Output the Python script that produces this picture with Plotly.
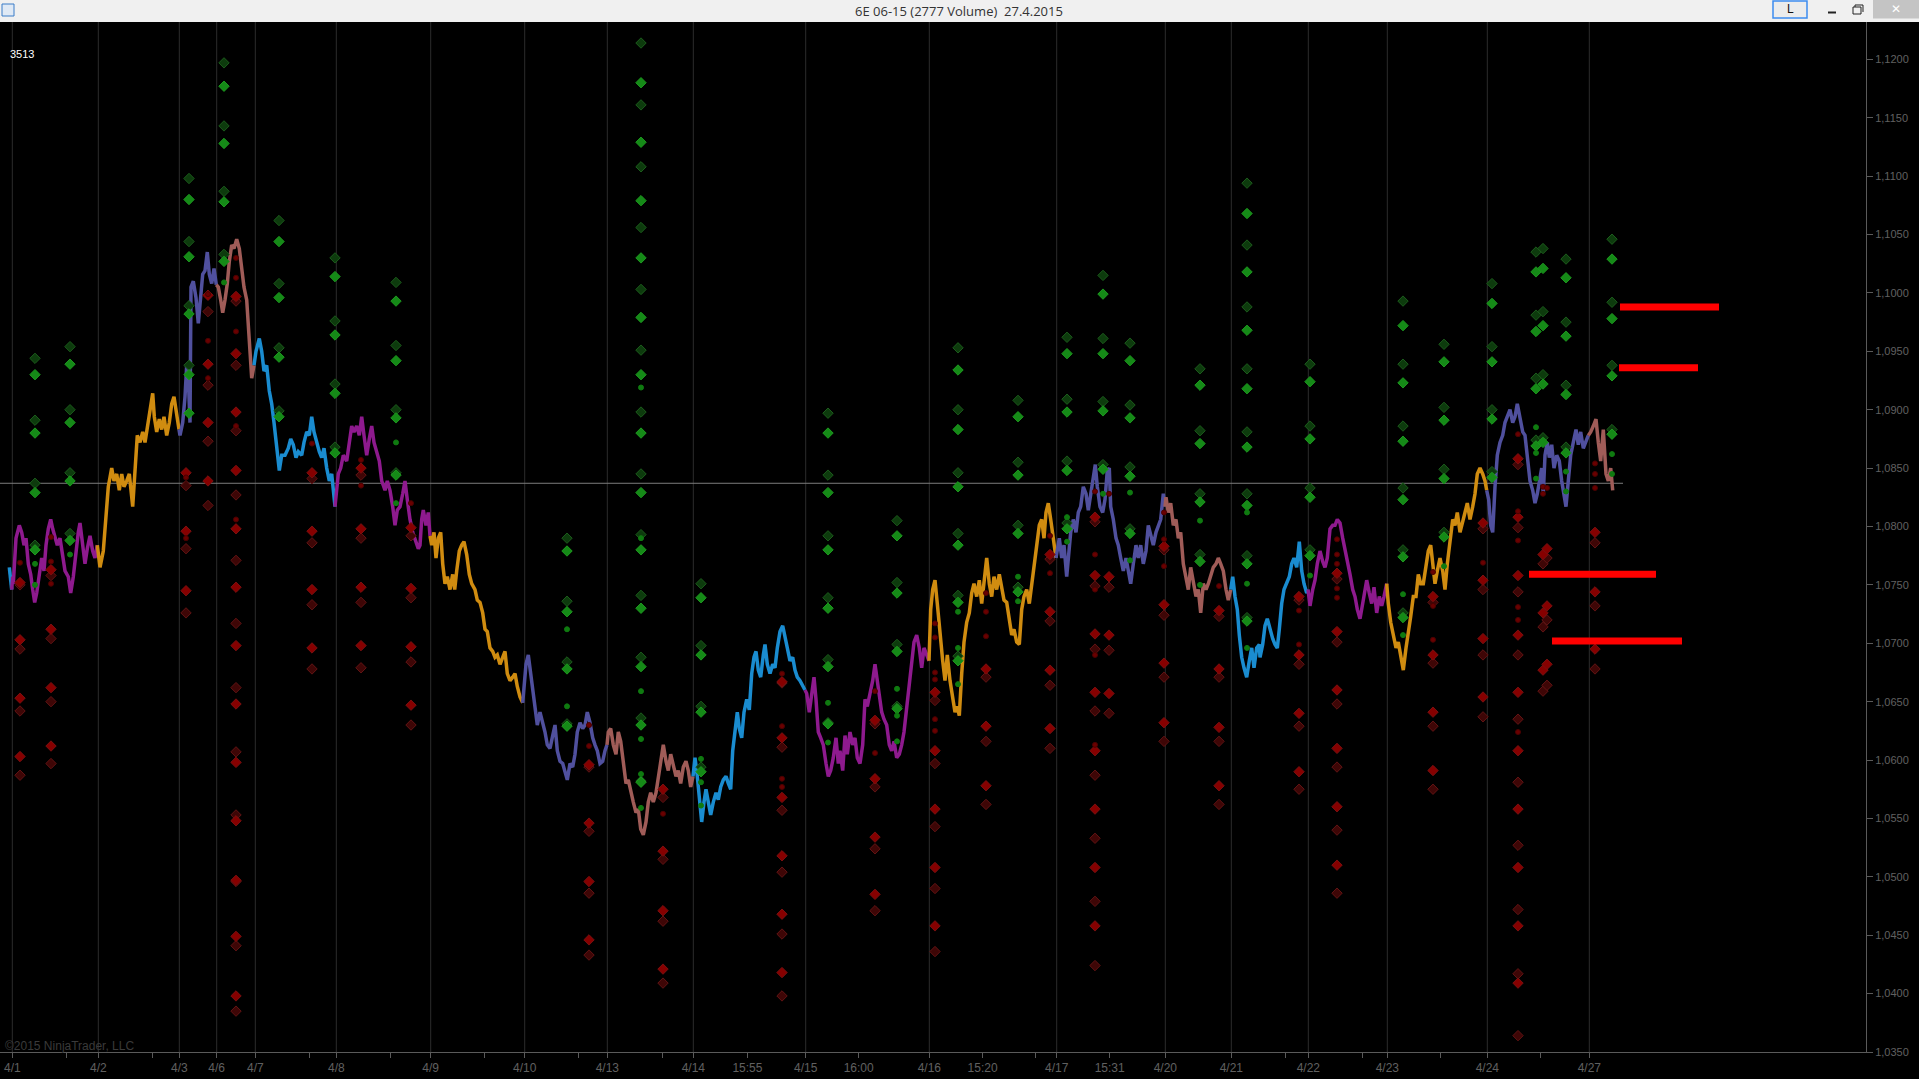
"""
6E 06-15 volume chart (NinjaTrader style) rebuilt with plotly
"""

import plotly.graph_objects as go

# ---- texts
WINDOW_TITLE = "6E 06-15 (2777 Volume)  27.4.2015"
BAR_COUNTER = "3513"
COPYRIGHT = "\u00a92015 NinjaTrader, LLC"

# ---- x axis (bar positions of session starts and intraday labels)
DAY_X = [12.3, 98.3, 179.3, 216.7, 255.3, 336.3, 430.7, 524.7, 607.3, 693.3,
         805.7, 929.3, 1056.7, 1165.3, 1231.3, 1308.3, 1387.3, 1487.3, 1589.3]
DAY_LABELS = ["4/1", "4/2", "4/3", "4/6", "4/7", "4/8", "4/9", "4/10", "4/13", "4/14",
              "4/15", "4/16", "4/17", "4/20", "4/21", "4/22", "4/23", "4/24", "4/27"]
TIME_X = [747.4, 858.7, 982.6, 1109.7]
TIME_LABELS = ["15:55", "16:00", "15:20", "15:31"]
MINOR_X = [66.3, 152, 309.7, 390.3, 484.7, 578, 662, 1035.7, 1285.7, 1362.2, 1440.8, 1540.8]

# ---- price line (bar, close), one row per session
BAR_X = [
    9.3, 11.7,
    12.7, 13.3, 16, 19.3, 21.7, 24, 26, 28.3, 30.7, 32.7, 34.7, 36.7, 39.3, 41.7, 44, 46, 48.3, 50.7,
    52.7, 55, 57.3, 60, 62.7, 65, 68.3, 70.7, 73.3, 76, 78.3, 80, 82.7, 85, 87.3, 90, 92.7, 95, 97.3,
    99.3, 100, 103.3, 106, 108.3, 111.7, 114, 116.7, 119.3, 121.7, 124, 126.7, 129.3, 132.7, 135, 137.3,
    140, 142.7, 145, 147.3, 150, 152.7, 154.3, 156.7, 159.3, 161.7, 164, 166.7, 169.3, 171.7, 174, 176.7, 179,
    180, 182.7, 185, 186.7, 188.3, 190, 191, 193.3, 196, 198.3, 200, 202.7, 205, 207.3, 209.3, 211.7, 214, 216.3,
    218.3, 220.7, 222.7, 225, 227.3, 229.3, 231.7, 234, 236.7, 239.3, 241.7, 244, 246.7, 248.3, 250, 251.7, 254,
    256, 259.3, 261.7, 264, 266.7, 269.3, 271.7, 274, 276.7, 279.3, 281.7, 285, 288.3, 290.7, 293.3, 296,
    298.3, 301.7, 304, 306.7, 309.3, 311.7, 314, 316.7, 319.3, 321.7, 324, 326.7, 329.3, 331.7, 335,
    337, 338.3, 340.7, 343.3, 346.7, 349.3, 351.7, 354, 356.7, 359.3, 361.7, 364, 366.7, 369.3, 371.7, 374,
    376.7, 379.3, 381.7, 385, 387.3, 390, 392.7, 395, 397.3, 400, 402.7, 405, 407.3, 410, 412.7, 415, 418.3,
    420, 421.7, 423.3, 426, 428.3, 430,
    431.7, 434, 436, 438.3, 440.7, 442.7, 445, 447.3, 450, 452.7, 454.7, 456.7, 459.3, 461.7, 464, 466.7,
    469.3, 471.7, 475, 477.3, 480, 482.7, 485, 487.3, 490, 492.7, 495, 497.3, 500, 502.7, 505, 507.3, 510,
    512.7, 515, 517.3, 520, 522.7,
    525, 526, 528.3, 530, 532.7, 535, 537.3, 540, 542.7, 545, 547.3, 550, 552.7, 555, 557.3, 560, 562.7,
    565, 567.3, 570, 572.7, 575, 577.3, 580, 582.7, 585, 587.3, 590, 592.7, 595, 597.3, 600, 602.7, 605, 607,
    608.3, 610.7, 613.3, 616, 618.3, 620.7, 623.3, 626, 628.3, 630.7, 633.3, 636, 638.3, 640.7, 643.3, 646,
    648.3, 650.7, 653.3, 656, 658.3, 660.7, 663.3, 666, 668.3, 670.7, 673.3, 676, 678.3, 680.7, 683.3, 686,
    688.3, 690.7, 693,
    695, 697.3, 699.3, 701.7, 704, 706, 708.3, 710.7, 713.3, 716, 718.3, 720.7, 723.3, 726, 728.3, 730.7,
    732.7, 735, 737.3, 739.3, 741.7, 744, 746.7, 749.3, 751.7, 754, 756, 758.3, 760.7, 763.3, 765, 767.3,
    770, 772.7, 775, 777.3, 780, 782.7, 785, 787.3, 790, 792.7, 795, 797.3, 800, 802.7, 805,
    806.7, 809.3, 811.7, 814, 816, 818.3, 820.7, 823.3, 826, 828.3, 830.7, 833.3, 836, 838.3, 840, 842.7,
    845, 847.3, 850, 852.7, 855, 857.3, 860, 862.7, 865, 867.3, 870, 872.7, 875, 877.3, 879.3, 881.7, 884,
    886.7, 889.3, 891.7, 894, 896.7, 899.3, 901.7, 904, 906.7, 909.3, 911.7, 914, 916.7, 919.3, 921.7, 924,
    926.7, 929,
    930.7, 932.7, 935, 937.3, 940, 942.7, 945, 947.3, 950, 952.7, 955, 957.3, 959.3, 961.7, 964, 966.7,
    969.3, 971.7, 974, 976.7, 979.3, 981.7, 984, 986.7, 989.3, 991.7, 994, 996.7, 999.3, 1001.7, 1004,
    1006.7, 1009.3, 1011.7, 1014, 1016.7, 1019.3, 1021.7, 1024, 1026.7, 1029.3, 1031.7, 1034, 1036.7,
    1039.3, 1041.7, 1044, 1046, 1048.3, 1050.7, 1053.3, 1056,
    1057.3, 1059.3, 1061.7, 1064, 1066.7, 1068.7, 1070.7, 1073.3, 1076, 1078.3, 1080.7, 1083.3, 1086,
    1088.3, 1090.7, 1093.3, 1095.3, 1097.3, 1100, 1102.7, 1105, 1107.3, 1109.3, 1110.7, 1113.3, 1116,
    1118.3, 1120.7, 1123.3, 1126, 1128.3, 1130.7, 1133.3, 1136, 1138.3, 1140.7, 1143.3, 1146, 1148.3,
    1150.7, 1153.3, 1156, 1158.3, 1160.7, 1163.3, 1165,
    1166, 1168.3, 1170.7, 1173.3, 1176, 1178.3, 1180.7, 1183.3, 1186, 1188.3, 1190.7, 1193.3, 1196, 1198.3,
    1200.7, 1203.3, 1206, 1208.3, 1210.7, 1213.3, 1216, 1218.3, 1220.7, 1223.3, 1226, 1228.3, 1230.7,
    1232.7, 1235, 1237.3, 1239.3, 1241.7, 1244, 1246.7, 1249.3, 1251.7, 1254, 1256.7, 1259.3, 1260, 1262.7,
    1265, 1267.3, 1270, 1272.7, 1275, 1277.3, 1279.3, 1281.7, 1284, 1286.7, 1289.3, 1291.7, 1294, 1296.7,
    1299.3, 1301.7, 1304, 1306.7, 1308,
    1310, 1312.7, 1315, 1317.3, 1320, 1322.7, 1325, 1327.3, 1330, 1332.7, 1335, 1337.3, 1340, 1342.7, 1345,
    1347.3, 1350, 1352.7, 1355, 1357.3, 1360, 1362.7, 1365, 1366.7, 1369.3, 1371.7, 1374, 1376.7, 1379.3,
    1381.7, 1384, 1386.7,
    1388.3, 1390.7, 1393.3, 1396, 1398.3, 1400.7, 1403.3, 1406, 1408.3, 1410.7, 1413.3, 1416, 1418.3,
    1420.7, 1423.3, 1426, 1428.3, 1430.7, 1432.7, 1435, 1437.3, 1440, 1442.7, 1445, 1447.3, 1450, 1452.7,
    1455, 1457.3, 1460, 1462.7, 1465, 1467.3, 1470, 1472.7, 1475, 1477.3, 1480, 1482.7, 1485, 1486.7,
    1488.7, 1490.7, 1492.7, 1495, 1497.3, 1500, 1502.7, 1505, 1507.3, 1510, 1512.7, 1515, 1517.3, 1520,
    1522.7, 1525, 1527.3, 1530, 1532.7, 1535, 1537.3, 1539.3, 1541.7, 1543.3, 1545, 1547.3, 1549.3, 1551.7,
    1554, 1556.7, 1559.3, 1561.7, 1564, 1566, 1568.3, 1570.7, 1573.3, 1576, 1578.3, 1580.7, 1583.3, 1586, 1588.3,
    1590.7, 1593.3, 1596, 1598.3, 1600.7, 1603.3, 1606, 1608.3, 1610.7, 1612.7,
]
CLOSE = [
    1.0765, 1.0746,
    1.0757, 1.0751, 1.0790, 1.0801, 1.0795, 1.0784, 1.0790, 1.0768, 1.0759, 1.0746, 1.0735, 1.0743, 1.0757,
    1.0773, 1.0762, 1.0784, 1.0798, 1.0806, 1.0798, 1.0790, 1.0784, 1.0790, 1.0773, 1.0762, 1.0757, 1.0743,
    1.0757, 1.0779, 1.0795, 1.0803, 1.0784, 1.0768, 1.0781, 1.0792, 1.0779, 1.0773, 1.0784,
    1.0768, 1.0765, 1.0779, 1.0806, 1.0834, 1.0850, 1.0839, 1.0845, 1.0831, 1.0845, 1.0834, 1.0839, 1.0845,
    1.0817, 1.0850, 1.0878, 1.0872, 1.0881, 1.0872, 1.0886, 1.0900, 1.0914, 1.0894, 1.0881, 1.0892, 1.0883,
    1.0894, 1.0878, 1.0889, 1.0905, 1.0911, 1.0894, 1.0883,
    1.0878, 1.0889, 1.0911, 1.0938, 1.0927, 1.0889, 1.1005, 1.1010, 1.0996, 1.0974, 1.0994, 1.1016, 1.1019,
    1.1035, 1.1016, 1.1008, 1.1021, 1.1007,
    1.1005, 1.0994, 1.0983, 1.0994, 1.1008, 1.1027, 1.1041, 1.1038, 1.1046, 1.1038, 1.1021, 1.1005, 1.0994,
    1.0977, 1.0950, 1.0927, 1.0938,
    1.0950, 1.0961, 1.0950, 1.0933, 1.0938, 1.0916, 1.0905, 1.0889, 1.0867, 1.0848, 1.0861, 1.0861, 1.0867,
    1.0875, 1.0870, 1.0859, 1.0864, 1.0861, 1.0872, 1.0881, 1.0878, 1.0894, 1.0881, 1.0872, 1.0864, 1.0859,
    1.0867, 1.0850, 1.0839, 1.0845, 1.0817,
    1.0834, 1.0845, 1.0850, 1.0861, 1.0856, 1.0872, 1.0886, 1.0881, 1.0886, 1.0878, 1.0894, 1.0878, 1.0861,
    1.0875, 1.0886, 1.0872, 1.0864, 1.0856, 1.0839, 1.0831, 1.0839, 1.0831, 1.0817, 1.0801, 1.0814, 1.0817,
    1.0828, 1.0839, 1.0823, 1.0806, 1.0795, 1.0790, 1.0781, 1.0784, 1.0806, 1.0814, 1.0801, 1.0812, 1.0792,
    1.0784, 1.0795, 1.0773, 1.0790, 1.0795, 1.0768, 1.0751, 1.0757, 1.0746, 1.0759, 1.0746, 1.0762, 1.0779,
    1.0784, 1.0787, 1.0776, 1.0759, 1.0751, 1.0746, 1.0737, 1.0735, 1.0726, 1.0712, 1.0710, 1.0696, 1.0693,
    1.0688, 1.0690, 1.0682, 1.0688, 1.0693, 1.0674, 1.0668, 1.0671, 1.0674, 1.0663, 1.0654, 1.0649,
    1.0668, 1.0682, 1.0690, 1.0679, 1.0657, 1.0641, 1.0630, 1.0641, 1.0632, 1.0624, 1.0613, 1.0610, 1.0621,
    1.0630, 1.0608, 1.0599, 1.0597, 1.0591, 1.0583, 1.0597, 1.0594, 1.0605, 1.0624, 1.0632, 1.0627, 1.0630,
    1.0641, 1.0632, 1.0619, 1.0613, 1.0608, 1.0597, 1.0599, 1.0608, 1.0613,
    1.0624, 1.0627, 1.0613, 1.0605, 1.0624, 1.0616, 1.0597, 1.0580, 1.0583, 1.0572, 1.0564, 1.0555, 1.0558,
    1.0541, 1.0536, 1.0547, 1.0564, 1.0572, 1.0564, 1.0572, 1.0586, 1.0597, 1.0613, 1.0599, 1.0591, 1.0605,
    1.0597, 1.0586, 1.0591, 1.0580, 1.0594, 1.0599, 1.0591, 1.0577, 1.0586,
    1.0602, 1.0586, 1.0564, 1.0547, 1.0564, 1.0575, 1.0564, 1.0553, 1.0564, 1.0572, 1.0566, 1.0577, 1.0583,
    1.0586, 1.0580, 1.0575, 1.0608, 1.0627, 1.0641, 1.0627, 1.0619, 1.0641, 1.0652, 1.0643, 1.0674, 1.0688,
    1.0693, 1.0677, 1.0671, 1.0690, 1.0699, 1.0682, 1.0674, 1.0682, 1.0679, 1.0696, 1.0710, 1.0715, 1.0704,
    1.0696, 1.0685, 1.0688, 1.0677, 1.0671, 1.0668, 1.0663, 1.0660,
    1.0657, 1.0641, 1.0657, 1.0671, 1.0652, 1.0624, 1.0619, 1.0613, 1.0597, 1.0586, 1.0591, 1.0602, 1.0619,
    1.0597, 1.0608, 1.0591, 1.0621, 1.0605, 1.0624, 1.0613, 1.0619, 1.0602, 1.0597, 1.0613, 1.0652, 1.0646,
    1.0657, 1.0668, 1.0682, 1.0668, 1.0652, 1.0641, 1.0635, 1.0630, 1.0613, 1.0608, 1.0616, 1.0602, 1.0605,
    1.0613, 1.0624, 1.0646, 1.0668, 1.0685, 1.0701, 1.0707, 1.0696, 1.0679, 1.0696, 1.0690, 1.0685,
    1.0729, 1.0746, 1.0754, 1.0734, 1.0707, 1.0685, 1.0668, 1.0690, 1.0668, 1.0652, 1.0641, 1.0646, 1.0638,
    1.0674, 1.0701, 1.0718, 1.0726, 1.0743, 1.0751, 1.0740, 1.0754, 1.0734, 1.0751, 1.0773, 1.0751, 1.0740,
    1.0757, 1.0746, 1.0759, 1.0746, 1.0737, 1.0735, 1.0718, 1.0707, 1.0712, 1.0701, 1.0699, 1.0729, 1.0740,
    1.0746, 1.0734, 1.0751, 1.0768, 1.0784, 1.0801, 1.0806, 1.0790, 1.0812, 1.0820, 1.0806, 1.0790, 1.0773,
    1.0779, 1.0790, 1.0773, 1.0784, 1.0757, 1.0773, 1.0795, 1.0806, 1.0795, 1.0812, 1.0817, 1.0834, 1.0828,
    1.0814, 1.0828, 1.0845, 1.0853, 1.0834, 1.0817, 1.0812, 1.0823, 1.0848, 1.0850, 1.0817, 1.0806, 1.0790,
    1.0784, 1.0773, 1.0762, 1.0773, 1.0762, 1.0751, 1.0768, 1.0784, 1.0773, 1.0784, 1.0768, 1.0779, 1.0801,
    1.0792, 1.0784, 1.0795, 1.0801, 1.0806, 1.0828, 1.0817,
    1.0825, 1.0812, 1.0820, 1.0801, 1.0806, 1.0790, 1.0795, 1.0768, 1.0757, 1.0746, 1.0765, 1.0751, 1.0740,
    1.0746, 1.0726, 1.0751, 1.0746, 1.0751, 1.0757, 1.0765, 1.0768, 1.0773, 1.0768, 1.0762, 1.0746, 1.0737,
    1.0746,
    1.0757, 1.0740, 1.0729, 1.0707, 1.0688, 1.0679, 1.0671, 1.0685, 1.0696, 1.0679, 1.0696, 1.0699, 1.0688,
    1.0699, 1.0715, 1.0721, 1.0712, 1.0704, 1.0699, 1.0696, 1.0712, 1.0734, 1.0746, 1.0751, 1.0757, 1.0768,
    1.0773, 1.0765, 1.0787, 1.0762, 1.0751, 1.0743, 1.0746,
    1.0732, 1.0746, 1.0754, 1.0768, 1.0779, 1.0770, 1.0765, 1.0773, 1.0798, 1.0801, 1.0801, 1.0806, 1.0803,
    1.0790, 1.0781, 1.0773, 1.0759, 1.0746, 1.0740, 1.0729, 1.0721, 1.0734, 1.0746, 1.0754, 1.0743, 1.0734,
    1.0748, 1.0726, 1.0740, 1.0732, 1.0740, 1.0751,
    1.0734, 1.0718, 1.0707, 1.0696, 1.0701, 1.0688, 1.0677, 1.0696, 1.0712, 1.0723, 1.0740, 1.0740, 1.0759,
    1.0751, 1.0751, 1.0765, 1.0779, 1.0784, 1.0768, 1.0751, 1.0762, 1.0773, 1.0762, 1.0746, 1.0768, 1.0790,
    1.0806, 1.0801, 1.0812, 1.0795, 1.0806, 1.0812, 1.0820, 1.0806, 1.0817, 1.0828, 1.0845, 1.0850, 1.0845,
    1.0839, 1.0831,
    1.0823, 1.0801, 1.0795, 1.0834, 1.0861, 1.0872, 1.0878, 1.0889, 1.0894, 1.0900, 1.0889, 1.0894, 1.0905,
    1.0894, 1.0881, 1.0878, 1.0861, 1.0839, 1.0831, 1.0820, 1.0828, 1.0839, 1.0850, 1.0828, 1.0861, 1.0872,
    1.0859, 1.0870, 1.0850, 1.0861, 1.0856, 1.0839, 1.0825, 1.0817, 1.0839, 1.0861, 1.0872, 1.0883, 1.0870,
    1.0881, 1.0867, 1.0872, 1.0878,
    1.0881, 1.0886, 1.0892, 1.0872, 1.0856, 1.0883, 1.0845, 1.0839, 1.0850, 1.0831,
]

# ---- pivot diamonds (bar, price levels) - green above, red below
GREEN_X = [35, 70, 189, 224, 279, 335, 396, 567, 641, 701, 828, 897, 958, 1018, 1067, 1103, 1130,
           1200, 1247, 1310, 1403, 1444, 1492, 1536, 1543, 1566, 1612]
GREEN_BRIGHT = [
    [1.0930, 1.0880, 1.0829, 1.0780], [1.0939, 1.0889, 1.0839, 1.0788],
    [1.1080, 1.1031, 1.0982, 1.0930, 1.0897], [1.1177, 1.1128, 1.1078, 1.1027],
    [1.1044, 1.0996, 1.0945, 1.0894], [1.1014, 1.0964, 1.0914, 1.0863],
    [1.0993, 1.0942, 1.0893, 1.0844], [1.0779, 1.0727, 1.0678, 1.0629],
    [1.1180, 1.1129, 1.1079, 1.1030, 1.0979, 1.0930, 1.0880, 1.0829, 1.0780, 1.0730, 1.0680, 1.0630, 1.0581],
    [1.0739, 1.0690, 1.0641, 1.0590], [1.0880, 1.0829, 1.0780, 1.0730, 1.0680, 1.0631],
    [1.0792, 1.0743, 1.0693, 1.0644], [1.0934, 1.0883, 1.0834, 1.0784, 1.0735, 1.0685],
    [1.0894, 1.0844, 1.0794, 1.0744], [1.0948, 1.0898, 1.0848, 1.0798],
    [1.0999, 1.0948, 1.0899, 1.0849], [1.0942, 1.0893, 1.0843, 1.0794],
    [1.0921, 1.0871, 1.0821, 1.0770],
    [1.1068, 1.1018, 1.0968, 1.0918, 1.0868, 1.0818, 1.0768, 1.0719],
    [1.0924, 1.0875, 1.0825, 1.0775], [1.0972, 1.0923, 1.0873, 1.0823, 1.0774, 1.0722],
    [1.0941, 1.0891, 1.0841, 1.0791], [1.0991, 1.0941, 1.0892, 1.0842],
    [1.1018, 1.0967, 1.0918, 1.0869], [1.1021, 1.0972, 1.0922, 1.0872],
    [1.1013, 1.0963, 1.0913, 1.0863], [1.1029, 1.0978, 1.0929, 1.0879],
]
GREEN_DARK = [
    [1.0944, 1.0891, 1.0837, 1.0784], [1.0954, 1.0900, 1.0846, 1.0794],
    [1.1098, 1.1044, 1.0989, 1.0938], [1.1197, 1.1143, 1.1087, 1.1033],
    [1.1062, 1.1008, 1.0953, 1.0899], [1.1030, 1.0976, 1.0922, 1.0868],
    [1.1009, 1.0955, 1.0900, 1.0846], [1.0790, 1.0736, 1.0684, 1.0631],
    [1.1214, 1.1161, 1.1108, 1.1056, 1.1003, 1.0951, 1.0898, 1.0845, 1.0793, 1.0741, 1.0688, 1.0636, 1.0582],
    [1.0751, 1.0698, 1.0646, 1.0594], [1.0897, 1.0844, 1.0792, 1.0739, 1.0686, 1.0632],
    [1.0805, 1.0752, 1.0699, 1.0646], [1.0953, 1.0900, 1.0846, 1.0794, 1.0741, 1.0689],
    [1.0908, 1.0855, 1.0801, 1.0748], [1.0962, 1.0909, 1.0856, 1.0803],
    [1.1015, 1.0961, 1.0907, 1.0853], [1.0957, 1.0904, 1.0851, 1.0798],
    [1.0935, 1.0882, 1.0828, 1.0776],
    [1.1094, 1.1041, 1.0988, 1.0935, 1.0881, 1.0828, 1.0775, 1.0722],
    [1.0939, 1.0886, 1.0833, 1.0780], [1.0993, 1.0939, 1.0886, 1.0833, 1.0780, 1.0726],
    [1.0956, 1.0902, 1.0849, 1.0795], [1.1008, 1.0954, 1.0900, 1.0847],
    [1.1035, 1.0981, 1.0927, 1.0874], [1.1038, 1.0984, 1.0930, 1.0876],
    [1.1029, 1.0975, 1.0921, 1.0868], [1.1046, 1.0992, 1.0938, 1.0883],
]
GREEN_DOTS = [
    [1.0768, 1.0750], [1.0776], [], [1.1009], [], [], [1.0872, 1.0820], [1.0712, 1.0646],
    [1.0919, 1.0790, 1.0659, 1.0618, 1.0588, 1.0559], [1.0601, 1.0581, 1.0561], [1.0649, 1.0615],
    [1.0661, 1.0638, 1.0616], [1.0727, 1.0696, 1.0665], [1.0757, 1.0736], [1.0808, 1.0787],
    [1.0828], [1.0829, 1.0771], [1.0805, 1.0750], [1.0812, 1.0751, 1.0696], [1.0758],
    [1.0742, 1.0707], [1.0766], [], [1.0885, 1.0863, 1.0841], [], [1.0847, 1.0830], [1.0862, 1.0845],
]

RED_X = [20, 51, 186, 208, 236, 312, 361, 411, 589, 663, 782, 875, 935, 986, 1050, 1095, 1109,
         1164, 1219, 1299, 1337, 1433, 1483, 1518, 1543, 1547, 1595]
RED_BRIGHT = [
    [1.0752, 1.0703, 1.0653, 1.0603], [1.0763, 1.0712, 1.0662, 1.0612],
    [1.0846, 1.0796, 1.0745], [1.0998, 1.0939, 1.0889, 1.0839],
    [1.0997, 1.0948, 1.0898, 1.0848, 1.0798, 1.0748, 1.0698, 1.0648, 1.0598, 1.0548, 1.0497, 1.0449, 1.0398],
    [1.0846, 1.0796, 1.0746, 1.0696], [1.0850, 1.0798, 1.0748, 1.0698],
    [1.0799, 1.0747, 1.0697, 1.0647], [1.0596, 1.0546, 1.0496, 1.0446],
    [1.0575, 1.0522, 1.0471, 1.0421], [1.0667, 1.0619, 1.0568, 1.0518, 1.0468, 1.0418],
    [1.0634, 1.0584, 1.0534, 1.0485], [1.0658, 1.0608, 1.0558, 1.0508, 1.0458],
    [1.0678, 1.0629, 1.0578], [1.0776, 1.0727, 1.0677, 1.0627],
    [1.0808, 1.0758, 1.0708, 1.0658, 1.0608, 1.0558, 1.0508, 1.0458],
    [1.0757, 1.0707, 1.0657], [1.0783, 1.0733, 1.0683, 1.0632], [1.0728, 1.0678, 1.0628, 1.0578],
    [1.0740, 1.0690, 1.0640, 1.0590], [1.0760, 1.0710, 1.0660, 1.0610, 1.0560, 1.0510],
    [1.0740, 1.0690, 1.0641, 1.0591], [1.0803, 1.0754, 1.0704, 1.0654],
    [1.0858, 1.0808, 1.0758, 1.0707, 1.0658, 1.0608, 1.0558, 1.0508, 1.0458, 1.0409],
    [1.0776, 1.0726, 1.0677], [1.0781, 1.0732, 1.0682], [1.0795, 1.0744, 1.0695],
]
RED_DARK = [
    [1.0750, 1.0695, 1.0642, 1.0587], [1.0758, 1.0704, 1.0650, 1.0597],
    [1.0835, 1.0781, 1.0726], [1.0984, 1.0921, 1.0873, 1.0818],
    [1.0993, 1.0938, 1.0882, 1.0827, 1.0771, 1.0717, 1.0662, 1.0607, 1.0553, 1.0496, 1.0441, 1.0385],
    [1.0841, 1.0786, 1.0733, 1.0678], [1.0844, 1.0790, 1.0735, 1.0679],
    [1.0792, 1.0739, 1.0684, 1.0630], [1.0594, 1.0539, 1.0486, 1.0433],
    [1.0568, 1.0515, 1.0462, 1.0409], [1.0666, 1.0611, 1.0557, 1.0504, 1.0451, 1.0398],
    [1.0631, 1.0577, 1.0524, 1.0471], [1.0651, 1.0597, 1.0543, 1.0490, 1.0436],
    [1.0671, 1.0616, 1.0562], [1.0772, 1.0719, 1.0664, 1.0610],
    [1.0804, 1.0749, 1.0695, 1.0642, 1.0587, 1.0533, 1.0479, 1.0424],
    [1.0748, 1.0694, 1.0640], [1.0780, 1.0724, 1.0671, 1.0616], [1.0723, 1.0671, 1.0616, 1.0562],
    [1.0737, 1.0682, 1.0629, 1.0575], [1.0755, 1.0701, 1.0648, 1.0594, 1.0540, 1.0486],
    [1.0735, 1.0683, 1.0629, 1.0575], [1.0798, 1.0746, 1.0690, 1.0637],
    [1.0853, 1.0799, 1.0744, 1.0690, 1.0635, 1.0581, 1.0527, 1.0472, 1.0417, 1.0364],
    [1.0768, 1.0714, 1.0659], [1.0773, 1.0720, 1.0664], [1.0786, 1.0732, 1.0678],
]
RED_DOTS = [
    [1.0769], [1.0791, 1.0770, 1.0751], [1.0842, 1.0790], [1.0999, 1.0959, 1.0927],
    [1.1030, 1.1013, 1.0967, 1.0886, 1.0806], [1.0871], [1.0857, 1.0835], [1.0820],
    [1.0630, 1.0612], [1.0554], [1.0674, 1.0629, 1.0584, 1.0577], [1.0659, 1.0606],
    [1.0717, 1.0705, 1.0675, 1.0669, 1.0635, 1.0625], [1.0743, 1.0727, 1.0706], [1.0792, 1.0760],
    [1.0830, 1.0776, 1.0746, 1.0690, 1.0613], [1.0828], [1.0812, 1.0789, 1.0766], [1.0749],
    [1.0728, 1.0699], [1.0789, 1.0776, 1.0768, 1.0747, 1.0739], [1.0761, 1.0732, 1.0703], [1.0769],
    [1.0879, 1.0813, 1.0788, 1.0731, 1.0720, 1.0624], [1.0834, 1.0828], [1.0833], [1.0854, 1.0845, 1.0833],
]

# ---- horizontal lines
REF_PRICE = 1.0837
REF_END = 1623
LEVEL_PRICE = [1.0988, 1.0936, 1.0759, 1.0702]
LEVEL_START = [1620, 1619, 1529, 1552]
LEVEL_END = [1719, 1698, 1656, 1682]

# ---- styling
SESSION_COLORS = ["#8e1a8e", "#d08c10", "#50509e", "#a05c58", "#1a8cd0"]
FIG_W, FIG_H = 1919, 1079
PANE_R, PANE_T, PANE_B = 1866, 22, 1052
GRID = "#2c2c2c"
AXIS = "#5a5a5a"
LABEL = "#606060"
NARROW = "Liberation Sans Narrow, Arial Narrow, Liberation Sans, Arial, sans-serif"
SANS = "Liberation Sans, Arial, sans-serif"


def px_x(p):
    return p / PANE_R


def px_y(p):
    return (PANE_B - p) / (PANE_B - PANE_T)


def flatten(xs, groups):
    out_x, out_y = [], []
    for x, ys in zip(xs, groups):
        out_x += [x] * len(ys)
        out_y += ys
    return out_x, out_y


fig = go.Figure()

# session separators
for x in DAY_X:
    fig.add_shape(type="line", xref="x", yref="paper", x0=x, x1=x, y0=0, y1=1,
                  line=dict(color=GRID, width=1), layer="below")

# last price reference line
fig.add_trace(go.Scatter(x=[0, REF_END], y=[REF_PRICE, REF_PRICE], mode="lines",
                         line=dict(color="#7c7c7c", width=1), hoverinfo="skip"))

# price line, colored per session
bounds = [float("-inf")] + DAY_X + [float("inf")]
for k in range(len(bounds) - 1):
    idx = [i for i, x in enumerate(BAR_X) if bounds[k] <= x < bounds[k + 1]]
    if not idx:
        continue
    if idx[0] > 0:
        idx = [idx[0] - 1] + idx
    fig.add_trace(go.Scatter(
        x=[BAR_X[i] for i in idx], y=[CLOSE[i] for i in idx], mode="lines",
        line=dict(color=SESSION_COLORS[(k - 1) % 5], width=3.5), hoverinfo="skip"))

# pivot markers
marker_sets = [
    (GREEN_X, GREEN_DARK, "diamond", 8, "#0d3b0d", "#1c5c1c"),
    (GREEN_X, GREEN_BRIGHT, "diamond", 8, "#158a17", "#1d9a1f"),
    (GREEN_X, GREEN_DOTS, "circle", 5, "#0f7a10", "#0f7a10"),
    (RED_X, RED_DARK, "diamond", 8, "#3e0606", "#621414"),
    (RED_X, RED_BRIGHT, "diamond", 8, "#860000", "#7a1010"),
    (RED_X, RED_DOTS, "circle", 5, "#6a0000", "#4a0000"),
]
for xs, groups, symbol, size, fill, edge in marker_sets:
    mx, my = flatten(xs, groups)
    fig.add_trace(go.Scatter(x=mx, y=my, mode="markers", hoverinfo="skip",
                             marker=dict(symbol=symbol, size=size, color=fill,
                                         line=dict(color=edge, width=1))))

# drawn target levels
for price, x0, x1 in zip(LEVEL_PRICE, LEVEL_START, LEVEL_END):
    fig.add_trace(go.Scatter(x=[x0, x1], y=[price, price], mode="lines",
                             line=dict(color="#ff0000", width=7), hoverinfo="skip"))

# window title bar
fig.add_shape(type="rect", xref="paper", yref="paper", x0=px_x(0), x1=px_x(FIG_W),
              y0=px_y(PANE_T), y1=px_y(0), fillcolor="#f0f0f0", line=dict(width=0))
fig.add_shape(type="rect", xref="paper", yref="paper", x0=px_x(2), x1=px_x(14),
              y0=px_y(16), y1=px_y(4), fillcolor="#dfe9f5", line=dict(color="#3a7dc8", width=1))
fig.add_shape(type="rect", xref="paper", yref="paper", x0=px_x(1773), x1=px_x(1807),
              y0=px_y(18), y1=px_y(1), fillcolor="#ececec", line=dict(color="#3c8cf0", width=1.5))
fig.add_shape(type="line", xref="paper", yref="paper", x0=px_x(1828), x1=px_x(1836),
              y0=px_y(12.5), y1=px_y(12.5), line=dict(color="#222222", width=2))
fig.add_shape(type="rect", xref="paper", yref="paper", x0=px_x(1853), x1=px_x(1861),
              y0=px_y(14), y1=px_y(7), line=dict(color="#222222", width=1))
fig.add_shape(type="path", xref="paper", yref="paper",
              path="M %f,%f L %f,%f L %f,%f L %f,%f" % (px_x(1855), px_y(7), px_x(1855), px_y(5),
                                                       px_x(1863), px_y(5), px_x(1863), px_y(12)),
              line=dict(color="#222222", width=1))
fig.add_shape(type="rect", xref="paper", yref="paper", x0=px_x(1873), x1=px_x(FIG_W),
              y0=px_y(18.5), y1=px_y(0), fillcolor="#c4c4c4", line=dict(width=0))

annotations = [
    dict(text=WINDOW_TITLE, x=px_x(959), y=px_y(11), font=dict(family="Open Sans, Noto Sans, sans-serif",
                                                               size=13, color="#333333")),
    dict(text="L", x=px_x(1790), y=px_y(9.5), font=dict(family=SANS, size=12, color="#111111")),
    dict(text="\u2715", x=px_x(1896), y=px_y(9.5), font=dict(family="DejaVu Sans", size=12, color="#ffffff")),
    dict(text=BAR_COUNTER, x=px_x(8), y=px_y(54.5), xanchor="left",
         font=dict(family=SANS, size=11, color="#ffffff")),
    dict(text=COPYRIGHT, x=px_x(3), y=px_y(1046), xanchor="left",
         font=dict(family=NARROW, size=12, color="#3a3a3a")),
]
for a in annotations:
    a.setdefault("xanchor", "center")
    fig.add_annotation(xref="paper", yref="paper", showarrow=False, yanchor="middle", **a)

fig.update_layout(
    width=FIG_W, height=FIG_H,
    margin=dict(l=0, r=FIG_W - PANE_R, t=PANE_T, b=FIG_H - PANE_B, pad=0),
    paper_bgcolor="#000000", plot_bgcolor="#000000",
    showlegend=False, separators=",.",
    xaxis=dict(range=[0, PANE_R], showgrid=False, zeroline=False,
               showline=True, linecolor=AXIS, linewidth=1,
               ticks="outside", ticklen=5, tickcolor=AXIS,
               tickmode="array", tickvals=DAY_X + TIME_X + MINOR_X,
               ticktext=DAY_LABELS + TIME_LABELS + [""] * len(MINOR_X),
               tickfont=dict(family=NARROW, size=12, color=LABEL)),
    yaxis=dict(range=[1.0350, 1.1232], side="right", showgrid=False, zeroline=False,
               showline=True, linecolor=AXIS, linewidth=1,
               ticks="outside", ticklen=6, tickcolor=AXIS,
               tick0=1.035, dtick=0.005, tickformat=".4f",
               tickfont=dict(family=SANS, size=11, color=LABEL)),
)

# page body margin off so the figure fills the window exactly
fig.write_html("out.html", config={"displayModeBar": False},
               post_script="document.body.style.margin='0px';"
                           "document.body.style.overflow='hidden';")
